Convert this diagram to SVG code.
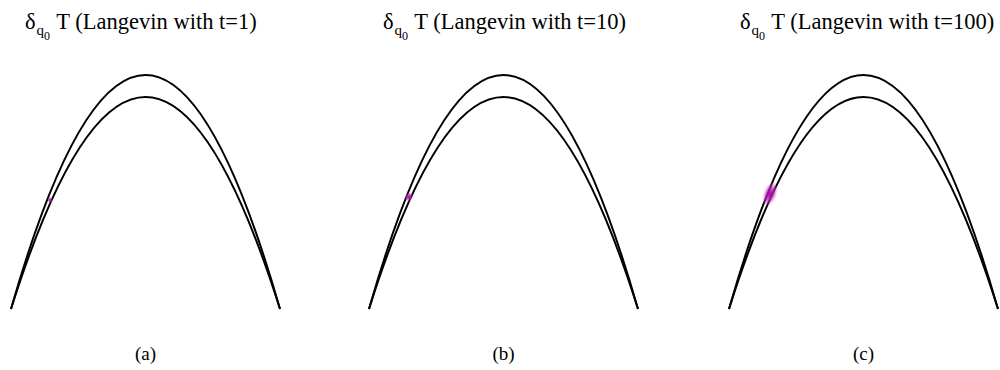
<svg xmlns="http://www.w3.org/2000/svg" width="1000" height="370" viewBox="0 0 1000 370">
<style>
.t{font-family:"Liberation Serif","Times New Roman",serif;font-size:22.5px;fill:#000}
.s{font-size:15px}
.z{font-size:12px}
.c{font-family:"Liberation Serif","Times New Roman",serif;font-size:19px;fill:#000;text-anchor:middle}
.arc{fill:none;stroke:#000;stroke-width:2}
</style>
<defs>
<radialGradient id="g"><stop offset="0" stop-color="#a000a0"/><stop offset="0.5" stop-color="#c020c0" stop-opacity="0.7"/><stop offset="1" stop-color="#e060e0" stop-opacity="0"/></radialGradient>
<g id="arch">
<path class="arc" d="M11,309 Q78,75 145.5,75 Q213,75 280,309"/>
<path class="arc" d="M11,309 Q78,97 145.5,97 Q213,97 280,309"/>
</g>
</defs>
<rect width="1000" height="370" fill="#fff"/>
<g id="panel-a">
<text class="t" x="25" y="29">δ<tspan class="s" dx="1" dy="6">q</tspan><tspan class="z" dy="5">0</tspan><tspan dy="-11" dx="1"> T (Langevin with t=1)</tspan></text>
<use href="#arch"/>
<ellipse cx="50" cy="200" rx="2.5" ry="3" fill="url(#g)"/>
<text class="c" x="145.5" y="360">(a)</text>
</g>
<g id="panel-b">
<text class="t" x="383" y="29">δ<tspan class="s" dx="1" dy="6">q</tspan><tspan class="z" dy="5">0</tspan><tspan dy="-11" dx="1"> T (Langevin with t=10)</tspan></text>
<use href="#arch" x="358"/>
<ellipse cx="409" cy="197" rx="4" ry="5" transform="rotate(20 409 197)" fill="url(#g)"/>
<text class="c" x="503.5" y="360">(b)</text>
</g>
<g id="panel-c">
<text class="t" x="740" y="29">δ<tspan class="s" dx="1" dy="6">q</tspan><tspan class="z" dy="5">0</tspan><tspan dy="-11" dx="1"> T (Langevin with t=100)</tspan></text>
<use href="#arch" x="718"/>
<ellipse cx="770" cy="194" rx="7" ry="13" transform="rotate(20 770 194)" fill="url(#g)"/>
<text class="c" x="863.5" y="360">(c)</text>
</g>
</svg>
